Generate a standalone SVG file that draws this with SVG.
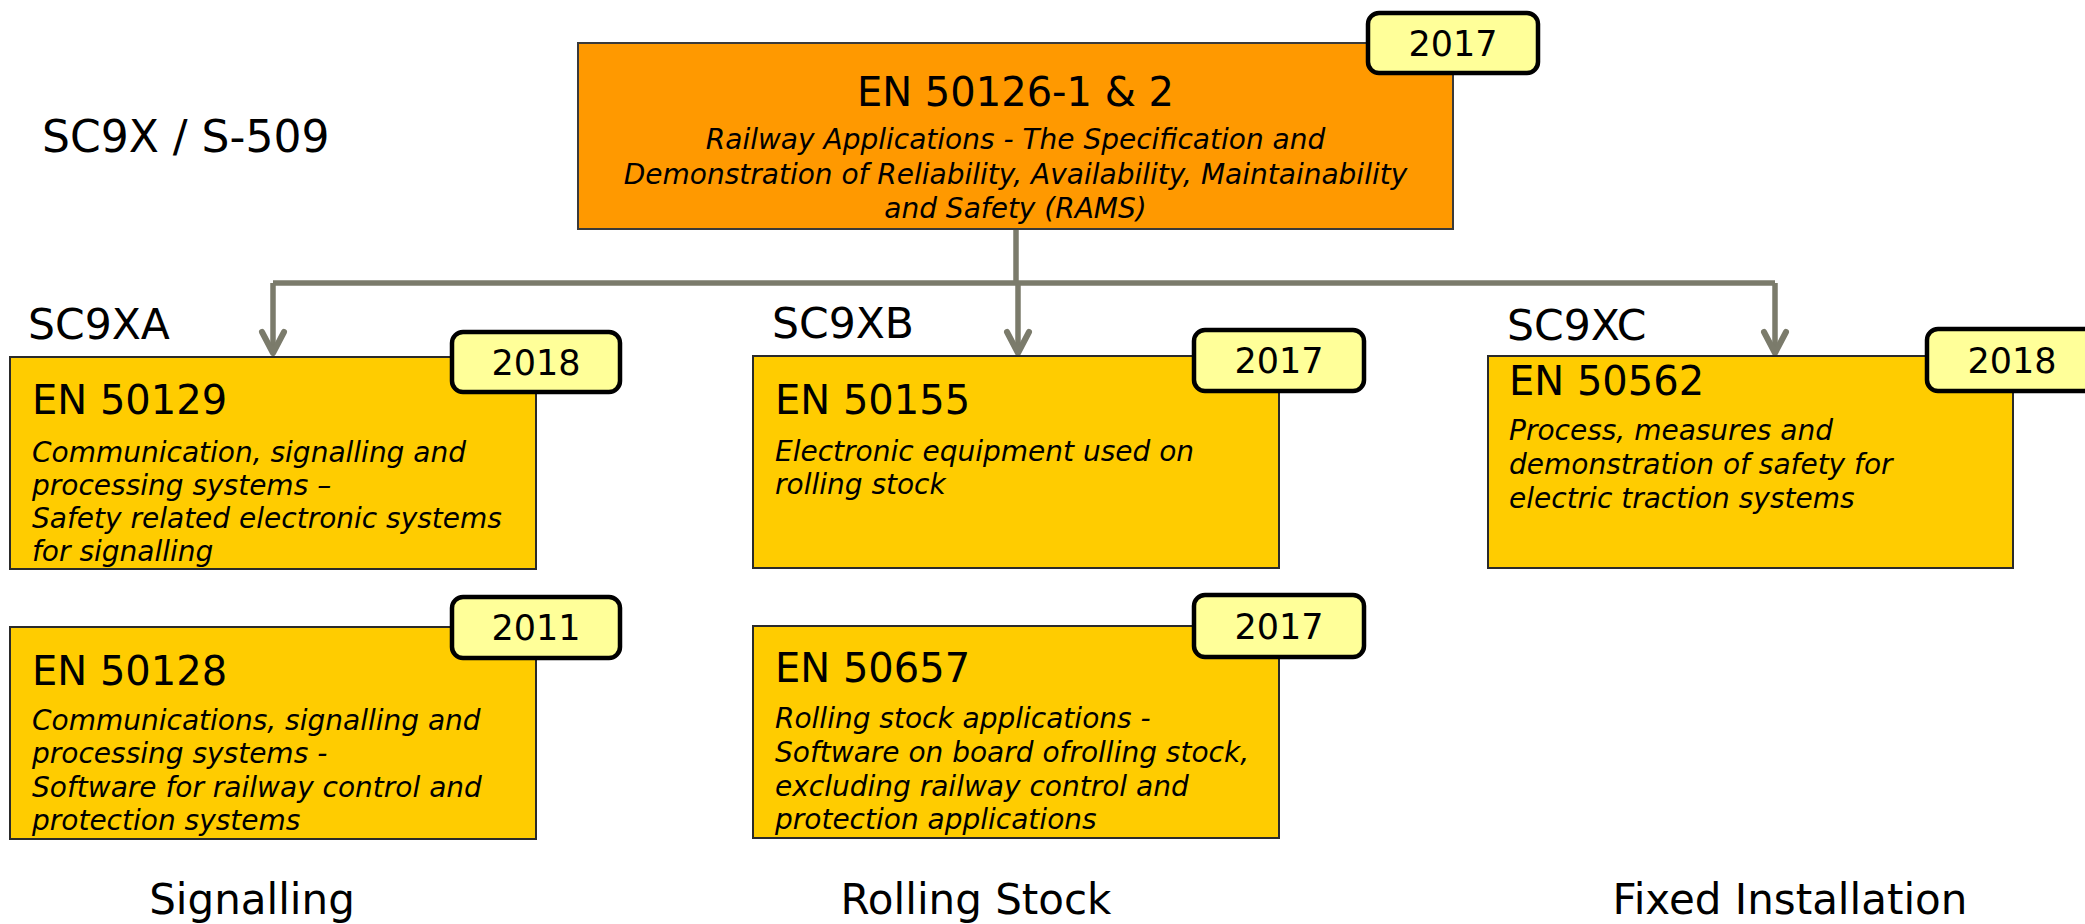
<svg xmlns="http://www.w3.org/2000/svg" width="2085" height="924" viewBox="0 0 2085 924">
<defs>
<style>
text{font-family:"DejaVu Sans","Liberation Sans",sans-serif;fill:#000}
.lbl{font-size:44px}
.sc{font-size:42.5px}
.ttl{font-size:40px}
.it{font-size:28px;font-style:italic}
.yr{font-size:35px;text-anchor:middle}
.cat{font-size:42px;text-anchor:middle}
.mid{text-anchor:middle}
.main{fill:#FF9900;stroke:#3a3a3a;stroke-width:2}
.box{fill:#FFCC00;stroke:#2a2a2a;stroke-width:2}
.badge{fill:#FFFF99;stroke:#000;stroke-width:4.5}
.con{fill:none;stroke:#7B7B6B;stroke-width:5.5}
</style>
<marker id="arr" markerUnits="userSpaceOnUse" markerWidth="32" markerHeight="32" viewBox="0 0 32 32" refX="27" refY="16" orient="auto">
<path d="M6 5 L27 16 L6 27" fill="none" stroke="#7B7B6B" stroke-width="6" stroke-linecap="round" stroke-linejoin="round"/>
</marker>
</defs>
<rect width="2085" height="924" fill="#fff"/>

<text class="lbl" x="42" y="152">SC9X / S-509</text>

<g id="connectors">
<path class="con" d="M1016 229 V283"/>
<path class="con" d="M273 283 H1775"/>
<path class="con" d="M273 283 V353" marker-end="url(#arr)"/>
<path class="con" d="M1018 283 V353" marker-end="url(#arr)"/>
<path class="con" d="M1775 283 V353" marker-end="url(#arr)"/>
</g>

<g id="en50126">
<rect class="main" x="578" y="43" width="875" height="186"/>
<text class="ttl mid" x="1015.5" y="106">EN 50126-1 &amp; 2</text>
<text class="it mid" x="1015.5" y="149">Railway Applications - The Specification and</text>
<text class="it mid" x="1015.5" y="184">Demonstration of Reliability, Availability, Maintainability</text>
<text class="it mid" x="1015.5" y="218">and Safety (RAMS)</text>
<rect class="badge" x="1368" y="13" width="170" height="60" rx="11"/>
<text class="yr" x="1453" y="56">2017</text>
</g>

<g id="sc9xa">
<text class="sc" x="28" y="339">SC9XA</text>
</g>
<g id="en50129">
<rect class="box" x="10" y="357" width="526" height="212"/>
<text class="ttl" x="32" y="414">EN 50129</text>
<text class="it" x="32" y="462">Communication, signalling and</text>
<text class="it" x="32" y="495">processing systems –</text>
<text class="it" x="32" y="528">Safety related electronic systems</text>
<text class="it" x="32" y="561">for signalling</text>
<rect class="badge" x="452" y="332" width="168" height="60" rx="11"/>
<text class="yr" x="536" y="375">2018</text>
</g>
<g id="en50128">
<rect class="box" x="10" y="627" width="526" height="212"/>
<text class="ttl" x="32" y="685">EN 50128</text>
<text class="it" x="32" y="730">Communications, signalling and</text>
<text class="it" x="32" y="763">processing systems -</text>
<text class="it" x="32" y="797">Software for railway control and</text>
<text class="it" x="32" y="830">protection systems</text>
<rect class="badge" x="452" y="597" width="168" height="61" rx="11"/>
<text class="yr" x="536" y="640">2011</text>
</g>
<g id="signalling"><text class="cat" x="252" y="914">Signalling</text></g>

<g id="sc9xb">
<text class="sc" x="772" y="338">SC9XB</text>
</g>
<g id="en50155">
<rect class="box" x="753" y="356" width="526" height="212"/>
<text class="ttl" x="775" y="414">EN 50155</text>
<text class="it" x="775" y="461">Electronic equipment used on</text>
<text class="it" x="775" y="494">rolling stock</text>
<rect class="badge" x="1194" y="330" width="170" height="61" rx="11"/>
<text class="yr" x="1279" y="373">2017</text>
</g>
<g id="en50657">
<rect class="box" x="753" y="626" width="526" height="212"/>
<text class="ttl" x="775" y="682">EN 50657</text>
<text class="it" x="775" y="728">Rolling stock applications -</text>
<text class="it" x="775" y="762">Software on board ofrolling stock,</text>
<text class="it" x="775" y="796">excluding railway control and</text>
<text class="it" x="775" y="829">protection applications</text>
<rect class="badge" x="1194" y="595" width="170" height="62" rx="11"/>
<text class="yr" x="1279" y="639">2017</text>
</g>
<g id="rolling"><text class="cat" x="976" y="914">Rolling Stock</text></g>

<g id="sc9xc">
<text class="sc" x="1507" y="340">SC9XC</text>
</g>
<g id="en50562">
<rect class="box" x="1488" y="356" width="525" height="212"/>
<text class="ttl" x="1509" y="395">EN 50562</text>
<text class="it" x="1509" y="440">Process, measures and</text>
<text class="it" x="1509" y="474">demonstration of safety for</text>
<text class="it" x="1509" y="508">electric traction systems</text>
<rect class="badge" x="1927" y="329" width="170" height="62" rx="11"/>
<text class="yr" x="2012" y="373">2018</text>
</g>
<g id="fixed"><text class="cat" x="1790" y="914">Fixed Installation</text></g>
</svg>
